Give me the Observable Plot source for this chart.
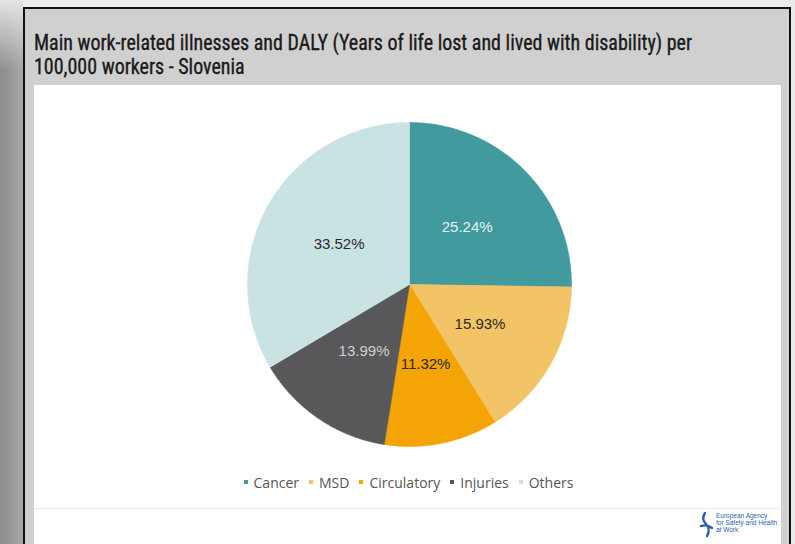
<!DOCTYPE html>
<html><head><meta charset="utf-8">
<script src="https://cdn.jsdelivr.net/npm/d3@7"></script>
<script src="https://cdn.jsdelivr.net/npm/@observablehq/plot@0.6"></script>
<style>
html,body{margin:0;padding:0;}
body{width:795px;height:544px;overflow:hidden;position:relative;background:#ebebeb;font-family:"Open Sans",sans-serif;}
#strip{position:absolute;left:0;top:0;width:23px;height:544px;
  background:linear-gradient(to bottom, rgba(228,228,228,1) 0px, rgba(228,228,228,0) 70px),
             linear-gradient(to right,#8f8f8f 0,#959595 9px,#9d9d9d 15px,#a6a6a6 23px);}
#frame{position:absolute;left:23px;top:7px;width:764px;height:560px;border:2px solid #111;background:#d0d0d0;}
#title{position:absolute;left:34px;top:31px;font-family:"Liberation Sans Narrow","Roboto Condensed","DejaVu Sans Condensed",sans-serif;
  font-size:22px;line-height:24px;color:#1a1a1a;transform-origin:0 0;white-space:nowrap;-webkit-text-stroke:0.35px #1a1a1a;}
#title span{display:block;}
#panel{position:absolute;left:34px;top:85px;width:747px;height:470px;background:#fff;}
#chart{position:absolute;left:0;top:0;}
#legend{position:absolute;left:6px;top:385px;width:747px;display:flex;justify-content:center;}
#divider{position:absolute;left:0;top:423px;width:747px;height:1px;background:#ececec;}
#logo{position:absolute;left:664px;top:425px;}
.lg-swatches{display:flex !important;justify-content:center;align-items:center;min-height:24px !important;margin:0 !important;}
.lg-swatch{margin-right:10px !important;font-family:"Open Sans",sans-serif !important;font-size:14px !important;color:#555 !important;}
.lg-swatch > svg{margin-right:6px !important;}
</style>
</head><body>
<div id="strip"></div>
<div id="frame"></div>
<div id="title"><span id="t1">Main work-related illnesses and DALY (Years of life lost and lived with disability) per</span><span>100,000 workers - Slovenia</span></div>
<div id="panel">
  <div id="chart"></div>
  <div id="legend"></div>
  <div id="divider"></div>
  <div id="logo">
    <svg width="80" height="30" viewBox="0 0 80 30">
      <path d="M7 3 q-4 6 1 11 q5 5 1 12 M3 16 q6 -2 11 2" fill="none" stroke="#2c5fa8" stroke-width="2.4" stroke-linecap="round"/>
      <text x="18" y="8" font-family="Liberation Sans Narrow, sans-serif" font-size="6.5" fill="#2c5fa8">European Agency</text>
      <text x="18" y="15" font-family="Liberation Sans Narrow, sans-serif" font-size="6.5" fill="#2c5fa8">for Safety and Health</text>
      <text x="18" y="22" font-family="Liberation Sans Narrow, sans-serif" font-size="6.5" fill="#2c5fa8">at Work</text>
    </svg>
  </div>
</div>
<script>
const categories = ["Cancer", "MSD", "Circulatory", "Injuries", "Others"];
const shares = [25.24, 15.93, 11.32, 13.99, 33.52];
const colors = ["#419a9d", "#f2c466", "#f4a404", "#58575a", "#c9e3e3"];
const labelColors = ["#e4f1f1", "#2a2a2a", "#2a2a2a", "#cfcfcf", "#2a2a2a"];

// fit title line 1 to reference width
const t = document.getElementById("title");
const w1 = document.getElementById("t1").getBoundingClientRect().width;
t.style.transform = `scaleX(${658 / w1})`;

const rows = categories.map((c, i) => ({category: c, share: shares[i], lc: labelColors[i]}));
const arcs = d3.pie().sort(null).value(d => d.share)(rows);

// slice outlines in unit-radius coordinates (y up), derived from the pie layout
const outline = [];
for (const a of arcs) {
  const n = Math.max(2, Math.ceil((a.endAngle - a.startAngle) / 0.01));
  outline.push({category: a.data.category, x: 0, y: 0});
  for (let k = 0; k <= n; ++k) {
    const ang = a.startAngle + (a.endAngle - a.startAngle) * k / n;
    outline.push({category: a.data.category, x: Math.sin(ang), y: Math.cos(ang)});
  }
  outline.push({category: a.data.category, x: 0, y: 0});
}
const labels = arcs.map(a => {
  const m = (a.startAngle + a.endAngle) / 2;
  return {x: 0.5 * Math.sin(m), y: 0.5 * Math.cos(m), text: a.data.share.toFixed(2) + "%", lc: a.data.lc};
});

const W = 747, H = 380, R = 162, CX = 375, CY = 199;
const plot = Plot.plot({
  width: W, height: H,
  margin: 0,
  x: {domain: [-CX / R, (W - CX) / R], axis: null},
  y: {domain: [-(H - CY) / R, CY / R], axis: null},
  color: {domain: categories, range: colors},
  style: {background: "transparent"},
  marks: [
    Plot.line(outline, {x: "x", y: "y", z: "category", fill: "category", stroke: "category", strokeWidth: 0.6, curve: "linear"}),
    ...[...new Set(labelColors)].map(c =>
      Plot.text(labels, {filter: d => d.lc === c, x: "x", y: "y", text: "text", fill: c,
        fontSize: 15, fontFamily: "Liberation Sans, Arial, sans-serif"}))
  ]
});
document.getElementById("chart").appendChild(plot);
const leg = plot.legend("color", {legend: "swatches", swatchSize: 4, className: "lg"});
document.getElementById("legend").appendChild(leg);
</script>
</body></html>
